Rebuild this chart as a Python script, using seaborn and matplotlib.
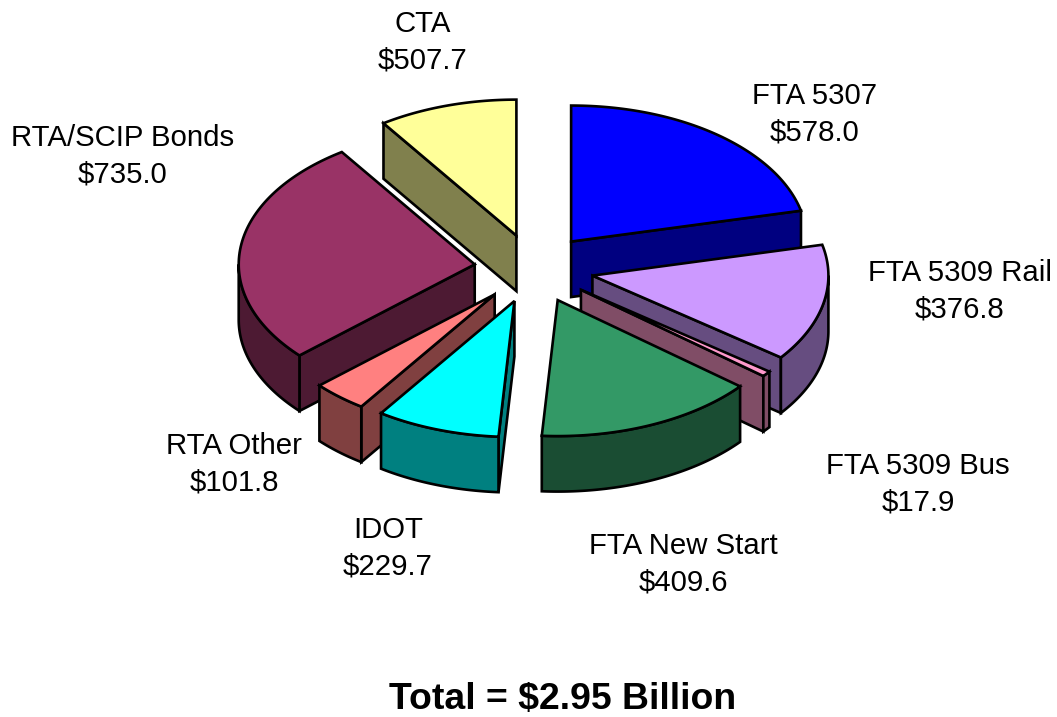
import numpy as np
import matplotlib
matplotlib.use("Agg")
import matplotlib.pyplot as plt
import seaborn as sns

# amounts printed on the labels
names = ["FTA 5307", "FTA 5309 Rail", "FTA 5309 Bus", "FTA New Start",
         "IDOT", "RTA Other", "RTA/SCIP Bonds", "CTA"]
amounts = ["$578.0", "$376.8", "$17.9", "$409.6", "$229.7", "$101.8", "$735.0", "$507.7"]
# slice sizes as drawn (the CTA slice in the picture is about 257.7, not 507.7)
drawn = [578.0, 376.8, 17.9, 409.6, 229.7, 101.8, 735.0, 257.7]
total_label = "Total = $2.95 Billion"

top_colors = ["#0000FF", "#CC99FF", "#FF99CC", "#339966",
              "#00FFFF", "#FF8080", "#993366", "#FFFF99"]

sns.set_theme(style="white")
plt.rcParams["font.family"] = ["Liberation Sans", "DejaVu Sans"]
palette = sns.color_palette(top_colors)

fig = plt.figure(figsize=(10.57, 7.17), dpi=100)
ax = fig.add_axes([0, 0, 1, 1])
ax.set_xlim(0, 1057)
ax.set_ylim(717, 0)
ax.axis("off")

# pie shape on the page
cx, cy = 534, 268.5
rx, ry = 236, 136
depth = 55.5
explode = 0.253
lw = 1.9

# clockwise from 12 o'clock
sizes = np.array(drawn)
ends = np.cumsum(sizes) / sizes.sum() * 2 * np.pi
starts = ends - sizes / sizes.sum() * 2 * np.pi
mids = (starts + ends) / 2


def rim(ox, oy, t0, t1):
    t = np.linspace(t0, t1, 80)
    return ox + rx * np.sin(t), oy - ry * np.cos(t)


def draw_slice(i):
    t0, t1 = starts[i], ends[i]
    ox = cx + explode * rx * np.sin(mids[i])
    oy = cy - explode * ry * np.cos(mids[i])
    top = palette[i]
    side = tuple(c * 0.5 for c in top)
    style = dict(facecolor=side, edgecolor="black", linewidth=lw)

    # straight cut walls, only when they face the viewer
    for t, seen in [(t0, np.sin(t0) < 0), (t1, np.sin(t1) > 0)]:
        if seen:
            ex, ey = ox + rx * np.sin(t), oy - ry * np.cos(t)
            ax.fill([ox, ex, ex, ox], [oy, ey, ey + depth, oy + depth], **style)

    # outer wall, front half only
    a, b = max(t0, np.pi / 2), min(t1, 3 * np.pi / 2)
    if a < b:
        x, y = rim(ox, oy, a, b)
        ax.fill(np.r_[x, x[::-1]], np.r_[y, y[::-1] + depth], **style)

    x, y = rim(ox, oy, t0, t1)
    ax.fill(np.r_[ox, x], np.r_[oy, y], facecolor=top, edgecolor="black", linewidth=lw)


# back slices first
order = np.argsort(-np.abs(mids - np.pi))
for i in order:
    draw_slice(i)

label_pos = [(815, 114), (960, 291), (918, 484), (683, 564),
             (388, 548), (234, 464), (123, 156), (423, 42)]
for name, amount, (lx, ly) in zip(names, amounts, label_pos):
    ax.text(lx, ly, name + "\n" + amount, ha="center", va="center",
            fontsize=21.2, color="black", linespacing=1.38)

# baseline placed so the bold line sits just above the bottom edge
ax.text(563, 708.5, total_label, ha="center", va="baseline",
        fontsize=26.9, fontweight="bold", color="black")

fig.savefig("out.png", dpi=100, facecolor="white")
